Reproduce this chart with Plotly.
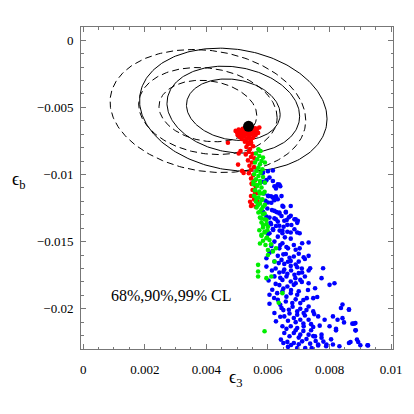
import numpy as np
import plotly.graph_objects as go

# chi^2 levels for 68%, 90%, 99% CL (2 parameters)
cl_chi2 = [2.30, 4.61, 9.21]

# fit ellipses: centre, (sigma_x, sigma_y), correlation
solid_center = [0.004875, -0.00517]
solid_sigma = [0.001003, 0.00151]
solid_rho = -0.15
dashed_center = [0.00405, -0.00527]
dashed_sigma = [0.001047, 0.00151]
dashed_rho = -0.15

best_fit = [0.00537, -0.00641]

x_ticks = [0, 0.002, 0.004, 0.006, 0.008, 0.01]
x_labels = ["0", "0.002", "0.004", "0.006", "0.008", "0.01"]
y_ticks = [0, -0.005, -0.01, -0.015, -0.02]
y_labels = ["0", "\u22120.005", "\u22120.01", "\u22120.015", "\u22120.02"]

red_pts = [
    (0.00495, -0.00675), (0.00500, -0.00690), (0.00505, -0.00665), (0.00510, -0.00680),
    (0.00512, -0.00700), (0.00518, -0.00660), (0.00520, -0.00690), (0.00522, -0.00715),
    (0.00528, -0.00672), (0.00530, -0.00700), (0.00532, -0.00730), (0.00538, -0.00685),
    (0.00540, -0.00712), (0.00542, -0.00660), (0.00545, -0.00740), (0.00548, -0.00698),
    (0.00550, -0.00665), (0.00552, -0.00725), (0.00555, -0.00680), (0.00558, -0.00655),
    (0.00560, -0.00705), (0.00565, -0.00660), (0.00568, -0.00690), (0.00572, -0.00650),
    (0.00525, -0.00745), (0.00535, -0.00760), (0.00545, -0.00770), (0.00515, -0.00735),
    (0.00508, -0.00720), (0.00502, -0.00708), (0.00527, -0.00650), (0.00535, -0.00650),
    (0.00515, -0.00670), (0.00525, -0.00685), (0.00535, -0.00700), (0.00545, -0.00685),
    (0.00555, -0.00700), (0.00518, -0.00710), (0.00538, -0.00722), (0.00562, -0.00670),
    (0.00525, -0.00755), (0.00535, -0.00775), (0.00545, -0.00760), (0.00530, -0.00795),
    (0.00542, -0.00810), (0.00552, -0.00790), (0.00538, -0.00830), (0.00550, -0.00845),
    (0.00528, -0.00850), (0.00545, -0.00870), (0.00556, -0.00880), (0.00535, -0.00895),
    (0.00548, -0.00910), (0.00540, -0.00935), (0.00555, -0.00945), (0.00545, -0.00965),
    (0.00538, -0.00990), (0.00552, -0.01005), (0.00545, -0.01030), (0.00558, -0.01045),
    (0.00548, -0.01070), (0.00560, -0.01090), (0.00550, -0.01115), (0.00562, -0.01140),
    (0.00545, -0.01160), (0.00555, -0.01185), (0.00565, -0.01200), (0.00548, -0.01225),
    (0.00560, -0.01240), (0.00470, -0.00763), (0.00503, -0.00926), (0.00505, -0.00844),
    (0.00511, -0.00825), (0.00516, -0.00973), (0.00521, -0.00988), (0.00542, -0.01203),
    (0.00547, -0.01067), (0.00558, -0.01141), (0.00545, -0.01235),
]

green_pts = [
    (0.00569, -0.00812), (0.00576, -0.00825), (0.00561, -0.00844), (0.00572, -0.00862),
    (0.00584, -0.00874), (0.00565, -0.00887), (0.00579, -0.00899), (0.00558, -0.00911),
    (0.00574, -0.00924), (0.00590, -0.00911), (0.00569, -0.00949), (0.00582, -0.00961),
    (0.00563, -0.00973), (0.00576, -0.00986), (0.00555, -0.00998), (0.00569, -0.01011),
    (0.00584, -0.01018), (0.00561, -0.01036), (0.00574, -0.01048), (0.00590, -0.01060),
    (0.00553, -0.01073), (0.00565, -0.01085), (0.00579, -0.01097), (0.00558, -0.01117),
    (0.00572, -0.01127), (0.00584, -0.01142), (0.00555, -0.01159), (0.00569, -0.01172),
    (0.00582, -0.01184), (0.00561, -0.01202), (0.00574, -0.01216), (0.00590, -0.01226),
    (0.00563, -0.01246), (0.00579, -0.01259), (0.00569, -0.01283), (0.00584, -0.01296),
    (0.00574, -0.01321), (0.00590, -0.01333), (0.00579, -0.01358), (0.00595, -0.01370),
    (0.00584, -0.01395), (0.00572, -0.01415), (0.00590, -0.01432), (0.00579, -0.01457),
    (0.00597, -0.01469), (0.00584, -0.01494), (0.00574, -0.01514),
    (0.00553, -0.01054), (0.00563, -0.01079), (0.00574, -0.01067), (0.00558, -0.01116),
    (0.00574, -0.01141), (0.00589, -0.01129), (0.00563, -0.01178), (0.00579, -0.01191),
    (0.00568, -0.01228), (0.00584, -0.01240), (0.00574, -0.01277), (0.00589, -0.01290),
    (0.00579, -0.01327), (0.00595, -0.01339), (0.00584, -0.01376), (0.00600, -0.01389),
    (0.00589, -0.01426), (0.00579, -0.01450), (0.00595, -0.01475), (0.00605, -0.01488),
    (0.00592, -0.01525), (0.00600, -0.01562), (0.00616, -0.01574), (0.00626, -0.01549),
    (0.00621, -0.01648), (0.00568, -0.01673), (0.00568, -0.01723), (0.00568, -0.01760),
    (0.00595, -0.01772), (0.00611, -0.01760), (0.00647, -0.01884), (0.00589, -0.02168),
    (0.00635, -0.01955), (0.00600, -0.01600), (0.00610, -0.01520), (0.00598, -0.01415),
]

blue_pts = [
    (0.00600, -0.00976), (0.00616, -0.00970), (0.00579, -0.00988), (0.00637, -0.01075),
    (0.00621, -0.01088), (0.00610, -0.01162), (0.00626, -0.01162),
    (0.00584, -0.00986), (0.00605, -0.01023), (0.00590, -0.01060), (0.00616, -0.01048),
    (0.00632, -0.01073), (0.00600, -0.01159), (0.00616, -0.01172), (0.00632, -0.01184),
    (0.00600, -0.01209), (0.00647, -0.01234), (0.00621, -0.01271), (0.00637, -0.01283),
    (0.00658, -0.01283), (0.00674, -0.01308), (0.00605, -0.01321), (0.00626, -0.01333),
    (0.00653, -0.01345), (0.00690, -0.01333), (0.00610, -0.01370), (0.00637, -0.01382),
    (0.00663, -0.01375), (0.00695, -0.01432), (0.00616, -0.01407), (0.00647, -0.01419),
    (0.00674, -0.01432), (0.00600, -0.01444), (0.00695, -0.01360),
    (0.00584, -0.01054), (0.00595, -0.01042), (0.00632, -0.01079), (0.00640, -0.01087),
    (0.00626, -0.01104), (0.00587, -0.01141), (0.00602, -0.01161), (0.00618, -0.01171),
    (0.00644, -0.01161), (0.00621, -0.01191), (0.00592, -0.01196), (0.00611, -0.01210),
    (0.00650, -0.01240), (0.00598, -0.01253), (0.00613, -0.01265), (0.00628, -0.01280),
    (0.00674, -0.01235), (0.00637, -0.01290), (0.00658, -0.01277), (0.00584, -0.01277),
    (0.00595, -0.01314), (0.00621, -0.01327), (0.00644, -0.01309), (0.00661, -0.01339),
    (0.00686, -0.01334), (0.00697, -0.01344), (0.00608, -0.01359), (0.00632, -0.01351),
    (0.00668, -0.01319), (0.00626, -0.01384), (0.00651, -0.01389), (0.00676, -0.01376),
    (0.00617, -0.01413), (0.00638, -0.01418), (0.00663, -0.01426), (0.00686, -0.01408),
    (0.00605, -0.01438), (0.00703, -0.01438), (0.00647, -0.01438), (0.00632, -0.01463),
    (0.00655, -0.01468), (0.00674, -0.01478), (0.00711, -0.01512), (0.00732, -0.01507),
    (0.00621, -0.01500), (0.00647, -0.01512), (0.00611, -0.01532), (0.00637, -0.01550),
    (0.00665, -0.01550), (0.00684, -0.01525), (0.00703, -0.01550), (0.00605, -0.01582),
    (0.00632, -0.01606), (0.00658, -0.01592), (0.00684, -0.01611), (0.00716, -0.01616),
    (0.00732, -0.01606), (0.00644, -0.01636), (0.00674, -0.01644), (0.00595, -0.01624),
    (0.00621, -0.01649), (0.00700, -0.01649), (0.00653, -0.01666), (0.00674, -0.01681),
    (0.00695, -0.01691), (0.00737, -0.01698), (0.00779, -0.01698), (0.00595, -0.01686),
    (0.00613, -0.01715), (0.00637, -0.01730), (0.00663, -0.01740), (0.00686, -0.01747),
    (0.00711, -0.01730), (0.00732, -0.01715), (0.00774, -0.01772), (0.00621, -0.01759),
    (0.00653, -0.01708), (0.00647, -0.01785), (0.00674, -0.01797), (0.00689, -0.01772),
    (0.00602, -0.01790), (0.00637, -0.01824), (0.00663, -0.01834), (0.00684, -0.01822),
    (0.00800, -0.01822), (0.00816, -0.01810), (0.00614, -0.01859), (0.00705, -0.01785),
    (0.00732, -0.01810), (0.00753, -0.01847), (0.00647, -0.01871), (0.00674, -0.01884),
    (0.00695, -0.01896), (0.00726, -0.01921), (0.00747, -0.01921), (0.00760, -0.01913),
    (0.00605, -0.01896), (0.00632, -0.01933), (0.00658, -0.01946), (0.00679, -0.01958),
    (0.00705, -0.01958), (0.00630, -0.01884), (0.00732, -0.01983), (0.00605, -0.01963),
    (0.00644, -0.01995), (0.00668, -0.02008), (0.00695, -0.02020), (0.00716, -0.02032),
    (0.00747, -0.02020), (0.00837, -0.01995), (0.00863, -0.02008), (0.00811, -0.02057),
    (0.00621, -0.02032), (0.00653, -0.02057), (0.00684, -0.02069), (0.00705, -0.02082),
    (0.00732, -0.02082), (0.00763, -0.02057), (0.00784, -0.02082), (0.00826, -0.02082),
    (0.00626, -0.02094), (0.00647, -0.02131), (0.00674, -0.02131), (0.00695, -0.02144),
    (0.00716, -0.02131), (0.00747, -0.02136), (0.00768, -0.02126), (0.00800, -0.02131),
    (0.00847, -0.02102), (0.00874, -0.02111), (0.00884, -0.02107), (0.00653, -0.02181),
    (0.00684, -0.02181), (0.00705, -0.02193), (0.00732, -0.02193), (0.00753, -0.02206),
    (0.00774, -0.02193), (0.00821, -0.02161), (0.00884, -0.02161), (0.00642, -0.02230),
    (0.00663, -0.02247), (0.00684, -0.02255), (0.00711, -0.02243), (0.00737, -0.02260),
    (0.00763, -0.02267), (0.00789, -0.02280), (0.00811, -0.02267), (0.00832, -0.02280),
    (0.00863, -0.02255), (0.00889, -0.02230), (0.00900, -0.02272), (0.00923, -0.02272),
    (0.00665, -0.02284), (0.00695, -0.02292), (0.00721, -0.02292), (0.00742, -0.02292),
    (0.00925, -0.02273), (0.00893, -0.02248), (0.00885, -0.02161), (0.00879, -0.02111),
    (0.00863, -0.02005), (0.00842, -0.01968), (0.00842, -0.02070), (0.00868, -0.02248),
    (0.00821, -0.02149), (0.00805, -0.02228), (0.00790, -0.02266), (0.00763, -0.02273),
    (0.00774, -0.02216), (0.00747, -0.02204),
    (0.00640, -0.01525), (0.00660, -0.01540), (0.00690, -0.01560), (0.00615, -0.01570),
    (0.00650, -0.01595), (0.00670, -0.01620), (0.00700, -0.01590), (0.00720, -0.01630),
    (0.00635, -0.01660), (0.00665, -0.01650), (0.00690, -0.01670), (0.00710, -0.01700),
    (0.00625, -0.01700), (0.00650, -0.01725), (0.00675, -0.01715), (0.00700, -0.01735),
    (0.00720, -0.01760), (0.00640, -0.01770), (0.00660, -0.01760), (0.00690, -0.01810),
    (0.00710, -0.01800), (0.00625, -0.01815), (0.00650, -0.01850), (0.00675, -0.01860),
    (0.00700, -0.01870), (0.00730, -0.01860), (0.00620, -0.01920), (0.00660, -0.01910),
    (0.00690, -0.01930), (0.00715, -0.01935), (0.00640, -0.01970), (0.00680, -0.01985),
    (0.00705, -0.02000), (0.00725, -0.02010), (0.00650, -0.02010), (0.00670, -0.02035),
    (0.00695, -0.02045), (0.00720, -0.02050), (0.00750, -0.02040), (0.00640, -0.02060),
    (0.00665, -0.02090), (0.00690, -0.02100), (0.00715, -0.02110), (0.00740, -0.02115),
    (0.00660, -0.02150), (0.00690, -0.02160), (0.00715, -0.02165), (0.00740, -0.02160),
    (0.00670, -0.02205), (0.00700, -0.02215), (0.00725, -0.02225), (0.00650, -0.02255),
    (0.00675, -0.02270), (0.00700, -0.02265), (0.00755, -0.02240), (0.00780, -0.02245),
]


def ellipse(center, sigma, rho, chi2):
    t = np.linspace(0, 2 * np.pi, 240)
    k = np.sqrt(chi2)
    x = center[0] + k * sigma[0] * np.cos(t)
    y = center[1] + k * sigma[1] * (rho * np.cos(t) + np.sqrt(1 - rho ** 2) * np.sin(t))
    return x, y


fig = go.Figure()

for chi2 in cl_chi2:
    ex, ey = ellipse(dashed_center, dashed_sigma, dashed_rho, chi2)
    fig.add_trace(go.Scatter(x=ex, y=ey, mode="lines",
                             line=dict(color="black", width=1, dash="7px,4px")))
    ex, ey = ellipse(solid_center, solid_sigma, solid_rho, chi2)
    fig.add_trace(go.Scatter(x=ex, y=ey, mode="lines",
                             line=dict(color="black", width=1)))

for pts, col in [(blue_pts, "#0000ff"), (red_pts, "#ff0000"), (green_pts, "#00ee00")]:
    px_, py_ = zip(*pts)
    fig.add_trace(go.Scatter(x=px_, y=py_, mode="markers",
                             marker=dict(color=col, size=4.6, line=dict(width=0))))

fig.add_trace(go.Scatter(x=[best_fit[0]], y=[best_fit[1]], mode="markers",
                         marker=dict(color="black", size=11)))

axis_common = dict(
    showgrid=False, zeroline=False, showline=True, linecolor="#777", linewidth=1,
    mirror="allticks", ticks="inside", ticklen=5, tickcolor="#777",
    tickfont=dict(family="Liberation Serif", size=13, color="black"),
)

fig.update_xaxes(range=[-0.00007, 0.01006], tickvals=x_ticks, ticktext=x_labels,
                 minor=dict(ticks="inside", ticklen=2.5, dtick=0.0005, tick0=0, tickcolor="#777"),
                 ticklabelstandoff=8, **axis_common)
fig.update_yaxes(range=[-0.023, 0.00099], tickvals=y_ticks, ticktext=y_labels,
                 minor=dict(ticks="inside", ticklen=2.5, dtick=0.001, tick0=0, tickcolor="#777"),
                 ticklabelstandoff=4, **axis_common)

fig.add_annotation(x=0.00085, y=-0.0190, xref="x", yref="y", text="68%,90%,99% CL",
                   showarrow=False, xanchor="left", yanchor="middle",
                   font=dict(family="Liberation Serif", size=16, color="black"))
fig.add_annotation(x=0.498, y=-0.092, xref="paper", yref="paper", text="\u03f5<sub>3</sub>",
                   showarrow=False, xanchor="center", yanchor="middle",
                   font=dict(family="Liberation Serif", size=18, color="black"))
fig.add_annotation(x=-0.2, y=0.522, xref="paper", yref="paper", text="\u03f5<sub>b</sub>",
                   showarrow=False, xanchor="center", yanchor="middle",
                   font=dict(family="Liberation Serif", size=18, color="black"))

fig.update_layout(
    width=414, height=414, showlegend=False,
    margin=dict(l=81, r=12, t=27, b=65),
    plot_bgcolor="white", paper_bgcolor="white",
)

fig.write_html("out.html", config={"displayModeBar": False},
               post_script="document.body.style.margin='0';")
